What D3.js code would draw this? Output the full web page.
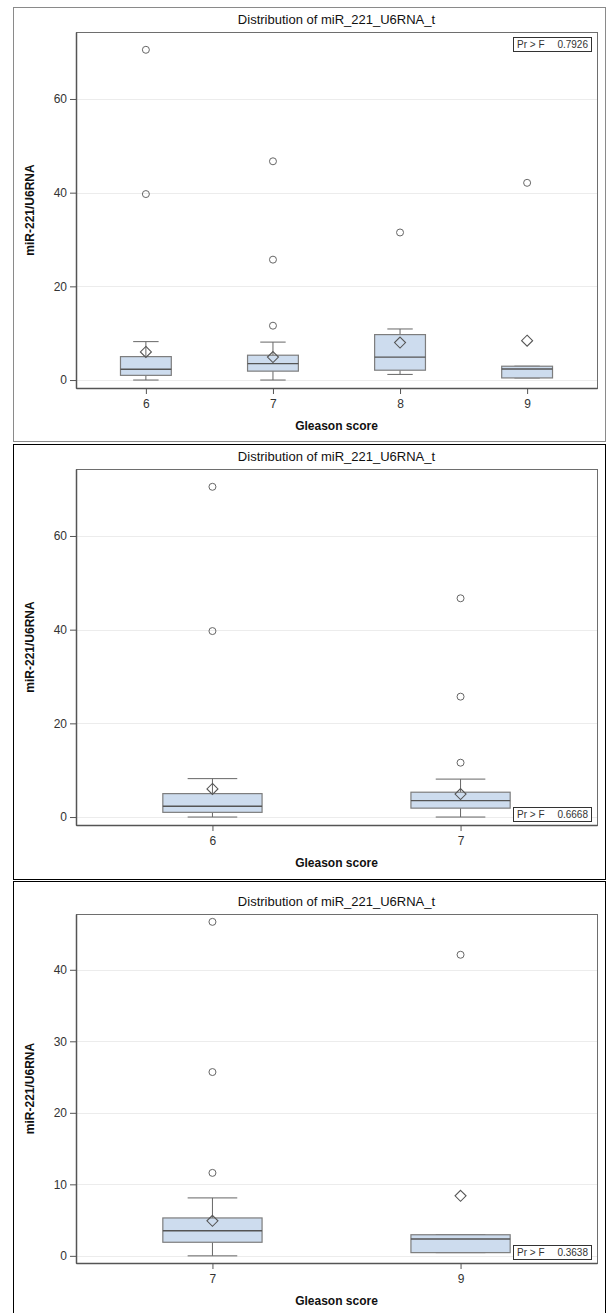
<!DOCTYPE html>
<html><head><meta charset="utf-8">
<script src="https://cdn.jsdelivr.net/npm/d3@7"></script>
<style>body{margin:0;background:#fff}svg{display:block}text{font-family:"Liberation Sans",Arial,sans-serif}</style>
</head><body><svg id="c" width="607" height="1313"></svg>
<script>
// ---- data ----
const categories = ["6", "7", "8", "9"];
const whiskerLow  = [0.0, 0.0, 1.2, 0.45];
const q1          = [1.0, 1.9, 2.1, 0.45];
const median      = [2.3, 3.5, 4.9, 2.35];
const q3          = [5.0, 5.3, 9.7, 2.95];
const whiskerHigh = [8.2, 8.1, 10.9, 2.95];
const means       = [6.0, 4.9, 8.0, 8.4];
const outliers    = [[70.5, 39.7], [46.7, 25.7, 11.6], [31.5], [42.1]];
const panelGroups = [["6", "7", "8", "9"], ["6", "7"], ["7", "9"]];
const pValues = ["0.7926", "0.6668", "0.3638"];
const yTicks = [[0, 20, 40, 60], [0, 20, 40, 60], [0, 10, 20, 30, 40]];
const yDomains = [[-1.7, 74.3], [-1.7, 74.3], [-1.0, 47.8]];
const titleText = "Distribution of miR_221_U6RNA_t";
const xLabel = "Gleason score";
const yLabel = "miR-221/U6RNA";

// ---- layout ----
const layout = [
  {top: 7,   bottom: 441,  plotTop: 32,  plotBottom: 388,  inset: "top",    border: "#8a8a8a"},
  {top: 444, bottom: 879,  plotTop: 469, plotBottom: 825,  inset: "bottom", border: "#000"},
  {top: 881, bottom: 1320, plotTop: 914, plotBottom: 1263, inset: "bottom", border: "#000"}
];
const plotLeft = 76, plotRight = 597;

const svg = d3.select("#c");

layout.forEach((L, pi) => {
  const g = svg.append("g");
  g.append("rect").attr("x", 13.5).attr("y", L.top + 0.5).attr("width", 592).attr("height", L.bottom - L.top)
    .attr("fill", "#fff").attr("stroke", L.border).attr("stroke-width", 1);

  const groups = panelGroups[pi];
  const x = d3.scalePoint().domain(groups).range([plotLeft, plotRight]).padding(0.55);
  const y = d3.scaleLinear().domain(yDomains[pi]).range([L.plotBottom, L.plotTop]);
  const bw = x.step() * 0.4;

  // gridlines
  g.append("g").selectAll("line").data(yTicks[pi]).join("line")
    .attr("x1", plotLeft).attr("x2", plotRight)
    .attr("y1", d => Math.round(y(d)) + 0.5).attr("y2", d => Math.round(y(d)) + 0.5)
    .attr("stroke", "#ececec").attr("stroke-width", 1);

  // frame
  g.append("rect").attr("x", plotLeft + 0.5).attr("y", L.plotTop + 0.5)
    .attr("width", plotRight - plotLeft).attr("height", L.plotBottom - L.plotTop)
    .attr("fill", "none").attr("stroke", "#6e6e6e").attr("stroke-width", 1);

  // axes
  const yAxis = d3.axisLeft(y).tickValues(yTicks[pi]).tickSize(6).tickSizeOuter(0).tickPadding(3);
  const ya = g.append("g").attr("transform", `translate(${plotLeft},0)`).call(yAxis);
  ya.select(".domain").attr("stroke", "#555").attr("stroke-width", 1.5);
  ya.selectAll(".tick line").attr("stroke", "#555");
  ya.selectAll(".tick text").attr("font-size", 12).attr("fill", "#333").attr("font-family", "Liberation Sans, Arial, sans-serif");

  const xAxis = d3.axisBottom(x).tickSize(6).tickSizeOuter(0).tickPadding(5);
  const xa = g.append("g").attr("transform", `translate(0,${L.plotBottom})`).call(xAxis);
  xa.select(".domain").attr("stroke", "#555").attr("stroke-width", 1.5);
  xa.selectAll(".tick line").attr("stroke", "#555");
  xa.selectAll(".tick text").attr("font-size", 12).attr("fill", "#333").attr("font-family", "Liberation Sans, Arial, sans-serif");

  // boxes
  groups.forEach(cat => {
    const i = categories.indexOf(cat);
    const cx = x(cat);
    const bg = g.append("g");
    bg.append("line").attr("x1", cx).attr("x2", cx).attr("y1", y(q3[i])).attr("y2", y(whiskerHigh[i])).attr("stroke", "#666");
    bg.append("line").attr("x1", cx).attr("x2", cx).attr("y1", y(q1[i])).attr("y2", y(whiskerLow[i])).attr("stroke", "#666");
    bg.append("line").attr("x1", cx - bw / 4).attr("x2", cx + bw / 4).attr("y1", y(whiskerHigh[i])).attr("y2", y(whiskerHigh[i])).attr("stroke", "#666");
    bg.append("line").attr("x1", cx - bw / 4).attr("x2", cx + bw / 4).attr("y1", y(whiskerLow[i])).attr("y2", y(whiskerLow[i])).attr("stroke", "#666");
    bg.append("rect").attr("x", cx - bw / 2).attr("y", y(q3[i])).attr("width", bw).attr("height", y(q1[i]) - y(q3[i]))
      .attr("fill", "#cddcee").attr("stroke", "#7d7d7d").attr("stroke-width", 1.2);
    bg.append("line").attr("x1", cx - bw / 2).attr("x2", cx + bw / 2).attr("y1", y(median[i])).attr("y2", y(median[i]))
      .attr("stroke", "#555").attr("stroke-width", 1.4);
    const my = y(means[i]);
    bg.append("path").attr("d", `M${cx},${my - 5.5}L${cx + 5.5},${my}L${cx},${my + 5.5}L${cx - 5.5},${my}Z`)
      .attr("fill", "none").attr("stroke", "#555").attr("stroke-width", 1.1);
    bg.selectAll("circle").data(outliers[i]).join("circle")
      .attr("cx", cx).attr("cy", d => y(d)).attr("r", 3.5)
      .attr("fill", "none").attr("stroke", "#666").attr("stroke-width", 1);
  });

  // inset
  const iw = 78, ih = 14;
  const ix = plotRight - 6 - iw;
  const iy = L.inset === "top" ? L.plotTop + 5 : L.plotBottom - 4 - ih;
  g.append("rect").attr("x", ix + 0.5).attr("y", iy + 0.5).attr("width", iw).attr("height", ih)
    .attr("fill", "#fff").attr("stroke", "#333");
  g.append("text").attr("x", ix + 4).attr("y", iy + 11).attr("font-size", 10).attr("fill", "#333")
    .text("Pr > F");
  g.append("text").attr("x", ix + iw - 3).attr("y", iy + 11).attr("font-size", 10).attr("fill", "#333")
    .attr("text-anchor", "end").text(pValues[pi]);

  // title & labels
  g.append("text").attr("x", (plotLeft + plotRight) / 2).attr("y", L.plotTop - 8)
    .attr("text-anchor", "middle").attr("font-size", 13).attr("fill", "#111").text(titleText);
  g.append("text").attr("x", (plotLeft + plotRight) / 2).attr("y", L.plotBottom + 42)
    .attr("text-anchor", "middle").attr("font-size", 12).attr("font-weight", "bold").attr("fill", "#111").text(xLabel);
  g.append("text").attr("transform", `translate(34,${(L.plotTop + L.plotBottom) / 2}) rotate(-90)`)
    .attr("text-anchor", "middle").attr("font-size", 12).attr("font-weight", "bold").attr("fill", "#111").text(yLabel);
});
</script></body></html>
